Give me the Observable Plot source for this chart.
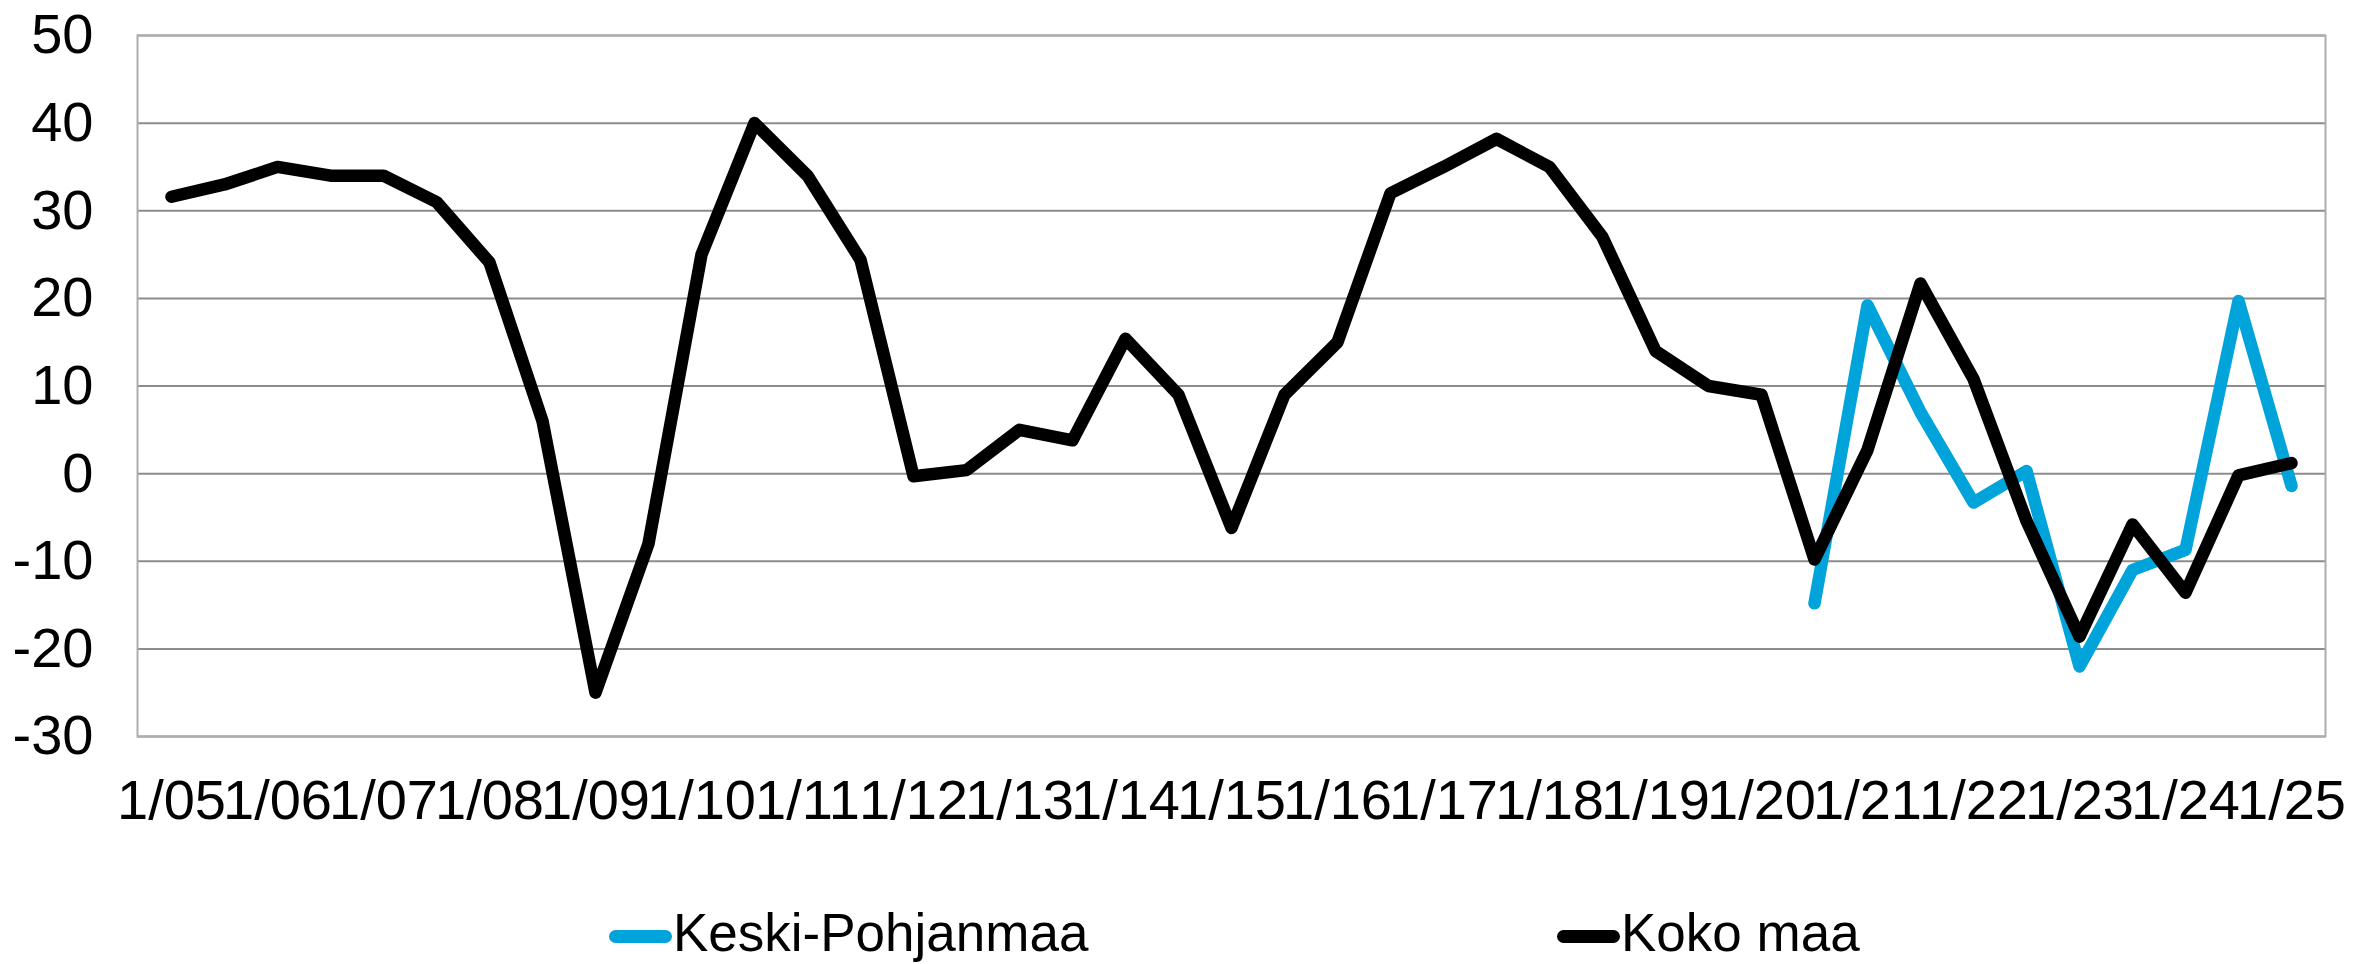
<!DOCTYPE html>
<html>
<head>
<meta charset="utf-8">
<script src="https://cdn.jsdelivr.net/npm/d3@7"></script>
<script src="https://cdn.jsdelivr.net/npm/@observablehq/plot@0.6"></script>
<style>
  html, body { margin: 0; padding: 0; background: #ffffff; }
  body { width: 2356px; height: 964px; overflow: hidden; font-family: "Liberation Sans", Arial, sans-serif; }
  #chart svg { display: block; }
  #legend { position: relative; width: 2356px; height: 94px; }
  .sw { position: absolute; height: 13px; border-radius: 6.5px; }
  .lab { position: absolute; font-size: 53px; line-height: 53px; color: #000; white-space: nowrap; }
</style>
</head>
<body>
<div id="chart"></div>
<div id="legend"></div>
<script>
// ---- data ----
const categories = [
  "1/05","7/05","1/06","7/06","1/07","7/07","1/08","7/08","1/09","7/09",
  "1/10","7/10","1/11","7/11","1/12","7/12","1/13","7/13","1/14","7/14",
  "1/15","7/15","1/16","7/16","1/17","7/17","1/18","7/18","1/19","7/19",
  "1/20","7/20","1/21","7/21","1/22","7/22","1/23","7/23","1/24","7/24",
  "1/25"
];
const xTickLabels = [
  "1/05","1/06","1/07","1/08","1/09","1/10","1/11","1/12","1/13","1/14",
  "1/15","1/16","1/17","1/18","1/19","1/20","1/21","1/22","1/23","1/24","1/25"
];
const yTicks = [-30, -20, -10, 0, 10, 20, 30, 40, 50];
const kokoMaa = [
  31.6, 33, 35, 34, 34, 31, 24.1, 6, -25, -8,
  25, 40, 34, 24.4, -0.3, 0.4, 5, 3.8, 15.4, 9,
  -6.2, 9, 15, 32, 35, 38.2, 35, 27, 14, 10,
  9, -9.8, 2.7, 21.7, 10.8, -5.4, -18.6, -5.8, -13.6, -0.2,
  1.2
];
const keskiPohjanmaa = [
  null, null, null, null, null, null, null, null, null, null,
  null, null, null, null, null, null, null, null, null, null,
  null, null, null, null, null, null, null, null, null, null,
  null, -14.8, 19.2, 7, -3.3, 0.3, -22, -11, -8.7, 19.7,
  -1.4
];
const seriesNames = ["Keski-Pohjanmaa", "Koko maa"];
const seriesColors = ["#00a3da", "#000000"];

// ---- build tables ----
const keskiRows = categories.map((c, i) => ({period: c, value: keskiPohjanmaa[i]}));
const kokoRows = categories.map((c, i) => ({period: c, value: kokoMaa[i]}));

const W = 2356, H = 870;
const chart = Plot.plot({
  width: W,
  height: H,
  marginLeft: 137,
  marginRight: 31,
  marginTop: 35,
  marginBottom: 134,
  style: {fontFamily: "'Liberation Sans', Arial, sans-serif", fontSize: "56px", color: "#000", background: "#fff"},
  x: {type: "point", domain: categories, padding: 0.5},
  y: {domain: [-30, 50]},
  marks: [
    Plot.gridY(yTicks, {stroke: "#8c8c8c", strokeOpacity: 1, strokeWidth: 2}),
    Plot.frame({stroke: "#adadad", strokeWidth: 2}),
    Plot.line(keskiRows, {x: "period", y: "value", stroke: seriesColors[0], strokeWidth: 12.5, strokeLinejoin: "round", strokeLinecap: "round"}),
    Plot.line(kokoRows, {x: "period", y: "value", stroke: seriesColors[1], strokeWidth: 12.5, strokeLinejoin: "round", strokeLinecap: "round"}),
    Plot.axisX({ticks: xTickLabels, tickSize: 0, tickPadding: 43, fontSize: 56, label: null}),
    Plot.axisY({ticks: yTicks, tickSize: 0, tickPadding: 44, fontSize: 56, label: null, tickFormat: d => String(d)})
  ]
});
document.getElementById("chart").appendChild(chart);

// ---- legend below the SVG ----
const legend = document.getElementById("legend");
const legendLefts = [609, 1557];
seriesNames.forEach((name, i) => {
  const sw = document.createElement("div");
  sw.className = "sw";
  sw.style.left = legendLefts[i] + "px";
  sw.style.top = "60px";
  sw.style.width = "63px";
  sw.style.background = seriesColors[i];
  legend.appendChild(sw);
  const lab = document.createElement("div");
  lab.className = "lab";
  lab.style.left = (legendLefts[i] + 64) + "px";
  lab.style.top = "36px";
  lab.textContent = name;
  legend.appendChild(lab);
});
</script>
</body>
</html>
